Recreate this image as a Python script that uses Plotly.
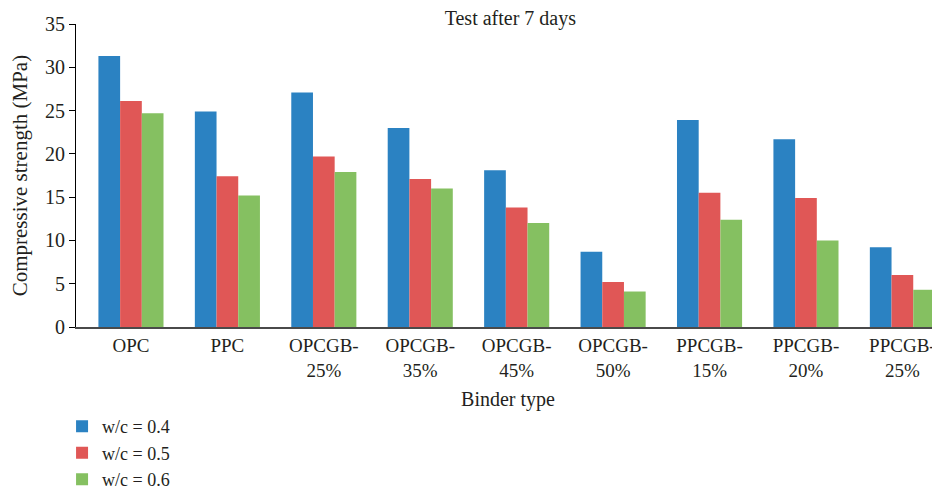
import plotly.graph_objects as go

categories = ["OPC", "PPC", "OPCGB-<br>25%", "OPCGB-<br>35%", "OPCGB-<br>45%",
              "OPCGB-<br>50%", "PPCGB-<br>15%", "PPCGB-<br>20%", "PPCGB-<br>25%"]
wc_04 = [31.3, 24.9, 27.1, 23.0, 18.1, 8.7, 23.9, 21.7, 9.2]
wc_05 = [26.1, 17.4, 19.7, 17.1, 13.8, 5.2, 15.5, 14.9, 6.0]
wc_06 = [24.7, 15.2, 17.9, 16.0, 12.0, 4.1, 12.4, 10.0, 4.3]
series = [("w/c = 0.4", wc_04, "#2b82c2"),
          ("w/c = 0.5", wc_05, "#e05756"),
          ("w/c = 0.6", wc_06, "#85c061")]

FONT = "Liberation Serif, Times New Roman, serif"
INK = "#231f20"

fig = go.Figure()
for name, vals, col in series:
    fig.add_trace(go.Bar(x=categories, y=vals, name=name, marker=dict(color=col, line=dict(width=0))))

# the page body keeps an 8px margin, so the figure is sized to fit inside the window
fig.update_layout(
    width=932, height=485, barmode="group", bargap=0.325, bargroupgap=0,
    paper_bgcolor="white", plot_bgcolor="white",
    font=dict(family=FONT, color=INK, size=20),
    margin=dict(l=68, r=0, t=16, b=166, autoexpand=False),
    title=dict(text="Test after 7 days", x=0.539, xanchor="center", y=0.98, yanchor="middle",
               font=dict(size=20)),
    xaxis=dict(range=[-0.57, 8.39], showline=True, linecolor="#4a4a4a", linewidth=2,
               ticks="", tickfont=dict(size=19), automargin=True,
               title=dict(text="Binder type", font=dict(size=20), standoff=12)),
    yaxis=dict(range=[0, 35], dtick=5, showgrid=False, zeroline=False, showline=True,
               linecolor="black", linewidth=1, ticks="outside", ticklen=6, tickcolor="black",
               tickfont=dict(size=20), automargin=False),
    legend=dict(xref="container", yref="container", x=0.058, xanchor="left",
                y=0.175, yanchor="top", orientation="v",
                font=dict(size=18), itemwidth=30, traceorder="normal"),
)
# y-axis title as a rotated annotation so it sits where the original has it
fig.add_annotation(text="Compressive strength (MPa)", textangle=-90, showarrow=False,
                   xref="paper", yref="paper", x=-0.065, y=0.5, xanchor="center", yanchor="middle",
                   font=dict(size=21, family=FONT, color=INK))
fig.write_html("out.html")
